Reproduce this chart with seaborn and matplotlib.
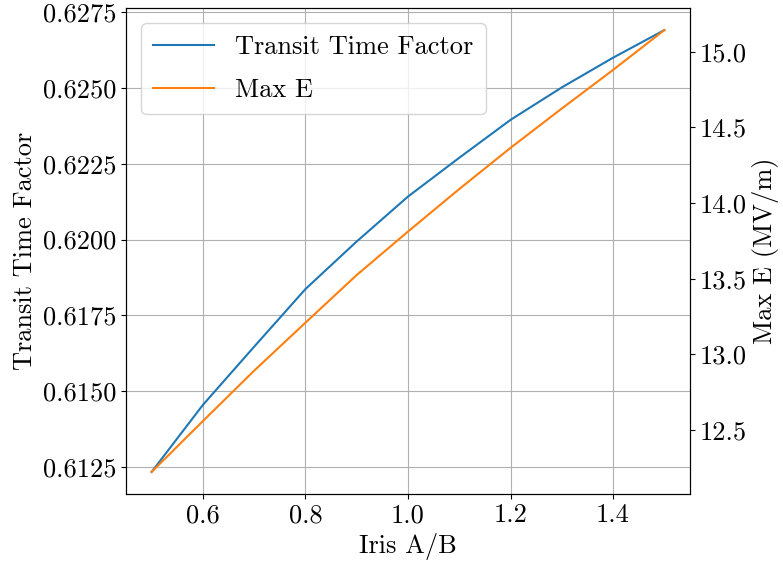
import matplotlib
matplotlib.use("Agg")
import matplotlib.pyplot as plt
import seaborn as sns
import pandas as pd

# Iris aperture ratio sweep
iris_ratio = [0.5, 0.6, 0.7, 0.8, 0.9, 1.0, 1.1, 1.2, 1.3, 1.4, 1.5]
transit_time_factor = [0.61234, 0.61455, 0.61647, 0.61837, 0.61994, 0.62142,
                       0.62270, 0.62395, 0.62502, 0.62600, 0.62691]
max_e = [12.224, 12.560, 12.893, 13.210, 13.525, 13.812, 14.093, 14.365,
         14.625, 14.880, 15.143]

df = pd.DataFrame({"iris": iris_ratio, "ttf": transit_time_factor, "emax": max_e})

plt.rcParams["font.family"] = "cmr10"
plt.rcParams["mathtext.fontset"] = "cm"
plt.rcParams["axes.formatter.use_mathtext"] = True
plt.rcParams["axes.unicode_minus"] = False
fs = 19

fig = plt.figure(figsize=(7.83, 5.69), dpi=100)
ax = fig.add_axes([126 / 783, 1 - 494 / 569, (690 - 126) / 783, (494 - 8) / 569])
ax2 = ax.twinx()

blue, orange = "#1f77b4", "#ff7f0e"
sns.lineplot(data=df, x="iris", y="ttf", ax=ax, color=blue, lw=1.5,
             label="Transit Time Factor", legend=False)
sns.lineplot(data=df, x="iris", y="emax", ax=ax2, color=orange, lw=1.5,
             label="Max E", legend=False)

ax.set_xticks([0.6, 0.8, 1.0, 1.2, 1.4])
ax.set_xticklabels(["0.6", "0.8", "1.0", "1.2", "1.4"])
ax.set_yticks([0.6125, 0.6150, 0.6175, 0.6200, 0.6225, 0.6250, 0.6275])
ax.set_yticklabels(["0.6125", "0.6150", "0.6175", "0.6200", "0.6225", "0.6250", "0.6275"])
ax2.set_yticks([12.5, 13.0, 13.5, 14.0, 14.5, 15.0])
ax2.set_yticklabels(["12.5", "13.0", "13.5", "14.0", "14.5", "15.0"])

ax.grid(True, color="#b0b0b0", lw=0.8)
ax.set_xlabel("Iris A/B", fontsize=fs)
ax.set_ylabel("Transit Time Factor", fontsize=fs)
ax2.set_ylabel("Max E (MV/m)", fontsize=fs)
ax.tick_params(labelsize=fs)
ax2.tick_params(labelsize=fs)

h1, l1 = ax.get_legend_handles_labels()
h2, l2 = ax2.get_legend_handles_labels()
ax2.legend(h1 + h2, l1 + l2, loc="upper left", fontsize=fs, handlelength=2.3,
           labelspacing=0.72, borderpad=0.46, borderaxespad=0.58)

fig.savefig("out.png", dpi=100)
